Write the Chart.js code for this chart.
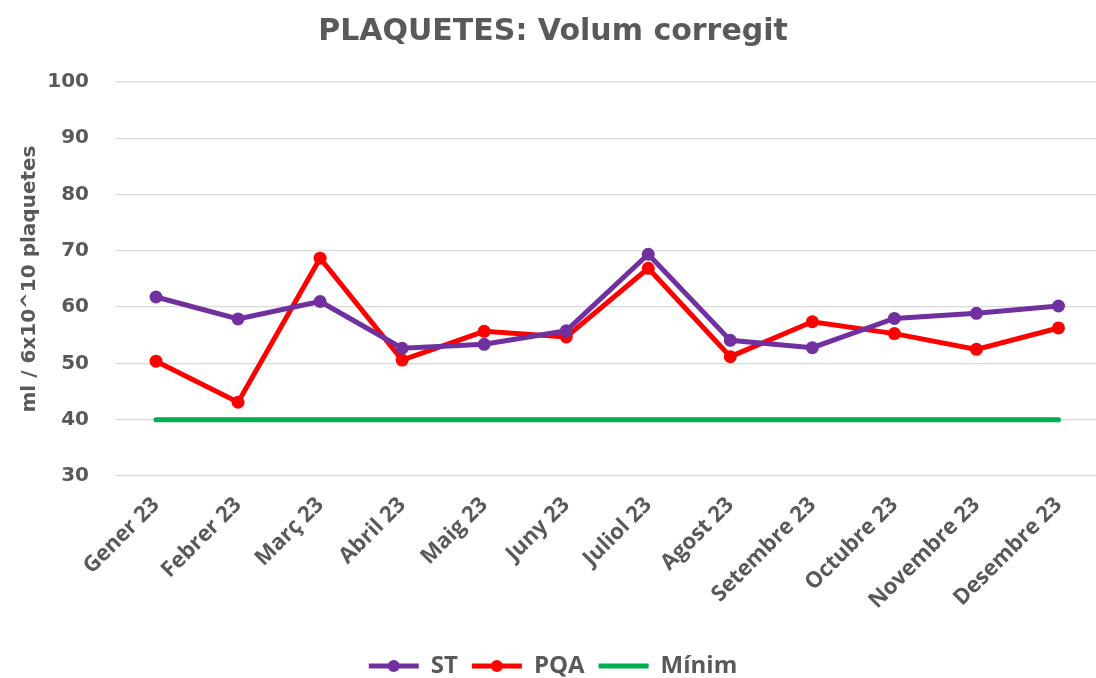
<!DOCTYPE html>
<html>
<head>
<meta charset="utf-8">
<script src="https://cdn.jsdelivr.net/npm/chart.js@4.4.1/dist/chart.umd.min.js"></script>
<style>
html,body{margin:0;padding:0;background:#fff;overflow:hidden;}
#wrap{width:1096px;height:678px;position:relative;overflow:hidden;}
canvas{display:block;}
</style>
</head>
<body>
<div id="wrap"><canvas id="c" width="1106" height="678"></canvas></div>
<script>
const categories = ["Gener 23","Febrer 23","Març 23","Abril 23","Maig 23","Juny 23","Juliol 23","Agost 23","Setembre 23","Octubre 23","Novembre 23","Desembre 23"];
const stValues = [61.8, 57.9, 61.0, 52.7, 53.4, 55.8, 69.4, 54.1, 52.8, 58.0, 58.9, 60.2];
const pqaValues = [50.4, 43.1, 68.7, 50.6, 55.7, 54.7, 66.9, 51.2, 57.4, 55.3, 52.5, 56.3];
const minimValues = [40, 40, 40, 40, 40, 40, 40, 40, 40, 40, 40, 40];
const yTicks = [30, 40, 50, 60, 70, 80, 90, 100];

const GREY = '#595959';

const legendDots = {
  id: 'legendDots',
  afterDraw(chart) {
    const lg = chart.legend;
    if (!lg || !lg.legendHitBoxes) return;
    const ctx = chart.ctx;
    lg.legendItems.forEach((item, i) => {
      const ds = chart.data.datasets[item.datasetIndex];
      if (!ds.pointRadius) return;
      const hb = lg.legendHitBoxes[i];
      const bw = lg.options.labels.boxWidth;
      const cx = hb.left + bw / 2;
      const cy = hb.top + hb.height / 2;
      ctx.save();
      ctx.fillStyle = ds.borderColor;
      ctx.beginPath();
      ctx.arc(cx, cy, 6, 0, Math.PI * 2);
      ctx.fill();
      ctx.restore();
    });
  }
};

new Chart(document.getElementById('c'), {
  type: 'line',
  data: {
    labels: categories,
    datasets: [
      { label: 'ST', data: stValues, borderColor: '#7030A0', backgroundColor: '#7030A0', borderWidth: 5, pointRadius: 6.5, pointHoverRadius: 6.5, pointBackgroundColor: '#7030A0', pointBorderWidth: 0, tension: 0 },
      { label: 'PQA', data: pqaValues, borderColor: '#FF0000', backgroundColor: '#FF0000', borderWidth: 5, pointRadius: 6.5, pointHoverRadius: 6.5, pointBackgroundColor: '#FF0000', pointBorderWidth: 0, tension: 0 },
      { label: 'Mínim', data: minimValues, borderColor: '#00B050', backgroundColor: '#00B050', borderWidth: 5, pointRadius: 0, pointHoverRadius: 0, tension: 0, borderCapStyle: 'round' }
    ]
  },
  options: {
    responsive: false,
    animation: false,
    events: [],
    layout: { padding: { left: 0, right: 0, top: 0, bottom: -10 } },
    plugins: {
      title: {
        display: true,
        text: 'PLAQUETES: Volum corregit',
        color: GREY,
        font: { family: 'DejaVu Sans', size: 30, weight: 'bold' },
        padding: { top: 14, bottom: 32 }
      },
      legend: {
        position: 'bottom',
        labels: {
          color: GREY,
          font: { family: 'Open Sans', size: 24, weight: 'bold' },
          usePointStyle: true,
          pointStyle: 'line',
          boxWidth: 50,
          pointStyleWidth: 50,
          padding: 14,
          generateLabels(chart) {
            return chart.data.datasets.map((ds, i) => ({
              text: ds.label,
              fillStyle: ds.borderColor,
              strokeStyle: ds.borderColor,
              lineWidth: 5,
              pointStyle: 'line',
              fontColor: GREY,
              datasetIndex: i,
              hidden: false
            }));
          }
        }
      },
      tooltip: { enabled: false }
    },
    scales: {
      x: {
        offset: true,
        grid: { display: false, drawTicks: false },
        border: { display: false },
        ticks: {
          color: GREY,
          font: { family: 'Open Sans', size: 22, weight: 'bold' },
          minRotation: 45,
          maxRotation: 45,
          padding: 16,
          autoSkip: false
        },
        afterFit(scale) { scale.height = 164; }
      },
      y: {
        min: 30,
        max: 100,
        afterBuildTicks(scale) { scale.ticks = yTicks.map(v => ({ value: v })); },
        grid: { color: '#d9d9d9', lineWidth: 1.3, drawTicks: false },
        border: { display: false },
        ticks: {
          color: GREY,
          font: { family: 'DejaVu Sans', size: 20, weight: 'bold' },
          padding: 26
        },
        title: {
          display: true,
          text: 'ml / 6x10^10 plaquetes',
          color: GREY,
          font: { family: 'DejaVu Sans', size: 20, weight: 'bold' },
          padding: { top: 18, bottom: 0 }
        },
        afterFit(scale) { scale.width = 115; }
      }
    }
  },
  plugins: [legendDots]
});
</script>
</body>
</html>
